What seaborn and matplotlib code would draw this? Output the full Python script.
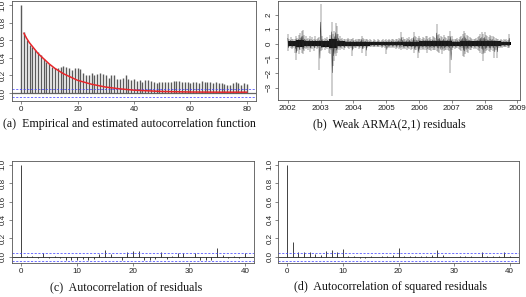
import numpy as np
import pandas as pd
import matplotlib
matplotlib.use("Agg")
import matplotlib.pyplot as plt
import seaborn as sns

# ---- (a) empirical ACF, lags 0..80, and estimated ACF (red curve)
acf_emp = [1.0, 0.69, 0.60, 0.54, 0.52, 0.49, 0.47, 0.43, 0.39, 0.35,
           0.33, 0.30, 0.28, 0.28, 0.30, 0.31, 0.30, 0.28, 0.26, 0.28,
           0.28, 0.27, 0.23, 0.20, 0.20, 0.23, 0.21, 0.22, 0.23, 0.22,
           0.20, 0.17, 0.21, 0.21, 0.16, 0.16, 0.17, 0.20, 0.16, 0.15,
           0.16, 0.14, 0.15, 0.13, 0.15, 0.15, 0.14, 0.13, 0.11, 0.13,
           0.13, 0.13, 0.13, 0.13, 0.14, 0.14, 0.14, 0.13, 0.12, 0.13,
           0.11, 0.12, 0.12, 0.11, 0.14, 0.13, 0.12, 0.12, 0.11, 0.12,
           0.11, 0.11, 0.10, 0.09, 0.09, 0.11, 0.12, 0.11, 0.09, 0.11,
           0.10]
est_lags = [1, 2, 3, 4, 5, 6, 8, 10, 12, 15, 20, 25, 30, 35, 40, 50, 60, 70, 80]
est_acf = [0.68, 0.62, 0.57, 0.53, 0.49, 0.45, 0.39, 0.33, 0.28, 0.22,
           0.145, 0.10, 0.068, 0.048, 0.033, 0.018, 0.012, 0.01, 0.01]
ci_a = 0.048

# ---- (b) weak ARMA(2,1) residuals: half-month high / low envelope, 2002.0 onwards
res_hi = [
    # 2002
    0.7, 0.3, 0.45, 0.3, 0.35, 0.3, 0.55, 0.4, 0.6, 0.75, 0.9, 0.95,
    0.6, 0.5, 0.35, 0.4, 0.55, 0.3, 0.45, 0.35, 0.5, 0.3, 0.4, 0.45,
    # 2003
    2.7, 0.5, 0.35, 0.4, 0.3, 0.45, 0.35, 0.6, 1.5, 0.7, 0.9, 1.4,
    1.2, 0.7, 0.5, 0.35, 0.4, 0.3, 0.35, 0.3, 0.4, 0.3, 0.35, 0.3,
    # 2004
    0.4, 0.25, 0.35, 0.3, 0.3, 0.35, 0.55, 0.4, 0.3, 0.35, 0.3, 0.25,
    0.3, 0.25, 0.2, 0.3, 0.25, 0.2, 0.3, 0.25, 0.2, 0.25, 0.3, 0.25,
    # 2005
    0.3, 0.25, 0.3, 0.25, 0.35, 0.3, 0.25, 0.3, 0.35, 0.4, 0.3, 0.8,
    0.45, 0.35, 0.3, 0.4, 0.35, 0.45, 0.35, 0.4, 0.8, 0.5, 0.45, 0.4,
    # 2006
    0.5, 0.4, 0.35, 0.45, 0.4, 0.5, 0.55, 0.4, 0.45, 0.35, 0.5, 0.45,
    0.4, 1.35, 0.6, 0.7, 0.5, 0.45, 0.6, 0.45, 0.4, 0.5, 0.55, 0.9,
    # 2007
    0.5, 0.35, 0.3, 0.35, 0.4, 0.3, 0.45, 0.55, 0.7, 0.9, 0.75, 0.6,
    0.5, 0.45, 0.4, 0.35, 0.3, 0.35, 0.4, 0.45, 0.55, 0.7, 0.8, 0.7,
    # 2008
    0.8, 0.6, 0.5, 0.45, 0.6, 0.5, 0.55, 0.45, 0.4, 0.35, 0.3, 0.25,
    0.3, 0.25, 0.3, 0.25, 0.3, 0.25, 0.7]
res_lo = [
    # 2002
    -0.5, -0.25, -0.3, -0.35, -0.3, -0.6, -1.1, -0.5, -0.7, -0.4, -0.6, -0.7,
    -0.5, -0.35, -0.3, -0.45, -0.55, -0.3, -0.35, -0.5, -0.3, -0.35, -0.3, -1.8,
    # 2003
    -0.5, -0.4, -0.3, -0.45, -0.3, -0.35, -0.6, -0.7, -3.6, -1.5, -1.2, -0.8,
    -0.6, -0.45, -0.4, -0.3, -0.35, -0.45, -0.3, -0.25, -0.3, -0.35, -0.3, -0.8,
    # 2004
    -0.35, -0.3, -0.3, -0.25, -0.35, -0.3, -0.6, -0.35, -0.3, -0.8, -0.3, -0.25,
    -0.2, -0.25, -0.2, -0.25, -0.2, -0.25, -0.2, -0.2, -0.25, -0.3, -0.25, -0.3,
    # 2005
    -0.7, -0.3, -0.25, -0.3, -0.3, -0.25, -0.3, -0.35, -0.3, -0.35, -0.3, -0.4,
    -0.35, -0.3, -0.35, -0.4, -0.3, -0.35, -0.4, -0.35, -0.6, -0.45, -0.4, -0.95,
    # 2006
    -0.6, -0.45, -0.4, -0.35, -0.45, -0.4, -0.65, -0.45, -0.4, -0.5, -0.4, -0.45,
    -0.4, -0.5, -0.55, -0.6, -0.45, -0.7, -0.5, -0.4, -0.45, -0.4, -0.5, -2.0,
    # 2007
    -0.45, -0.3, -0.35, -0.3, -0.3, -0.35, -0.4, -0.5, -0.8, -0.9, -0.7, -0.55,
    -0.6, -0.4, -0.45, -0.3, -0.35, -0.3, -0.35, -0.4, -0.5, -0.6, -0.7, -1.2,
    # 2008
    -0.6, -0.5, -0.45, -0.5, -0.55, -0.45, -0.5, -1.0, -0.4, -1.0, -0.3, -0.3,
    -0.25, -0.3, -0.25, -0.2, -0.25, -0.3, -0.3]
# dense black core of the series, one half-width per quarter
core_amp = [0.2, 0.25, 0.2, 0.2,
            0.22, 0.3, 0.2, 0.15,
            0.15, 0.15, 0.1, 0.1,
            0.1, 0.12, 0.15, 0.15,
            0.18, 0.2, 0.2, 0.2,
            0.15, 0.2, 0.2, 0.2,
            0.2, 0.2, 0.12, 0.12]
year_ticks = list(range(2002, 2010))

# ---- (c) ACF of residuals, (d) ACF of squared residuals
acf_res = [1.0, 0.005, 0.01, -0.01, 0.04, -0.01, 0.01, -0.01, -0.03, -0.03,
           -0.04, -0.02, -0.03, -0.02, 0.03, 0.07, 0.03, 0.0, -0.04, 0.05,
           0.06, 0.06, -0.03, -0.04, -0.02, 0.05, -0.02, 0.01, 0.04, 0.04,
           -0.005, 0.04, -0.03, -0.04, -0.03, 0.10, 0.02, -0.01, 0.01, -0.01,
           0.04]
acf_sq = [1.0, 0.16, 0.05, 0.05, 0.05, 0.03, 0.02, 0.06, 0.07, 0.05,
          0.08, 0.01, 0.01, -0.01, -0.01, 0.01, 0.0, 0.01, 0.01, 0.02,
          0.09, 0.01, 0.01, 0.01, 0.01, 0.01, 0.02, 0.07, 0.02, 0.0,
          0.0, 0.01, 0.01, 0.01, 0.0, 0.05, 0.01, 0.01, 0.01, 0.05,
          0.01]
ci_cd = 0.045

sns.set_theme(style="white")
plt.rcParams['font.family'] = ['Liberation Sans', 'DejaVu Sans']

W, H = 526, 297
fig = plt.figure(figsize=(W / 100, H / 100), dpi=100)


def px_axes(x0, y0, x1, y1):
    return fig.add_axes([x0 / W, 1 - y1 / H, (x1 - x0) / W, (y1 - y0) / H])


FRAME = '#555555'
CI_COL = '#3f3fff'


def r_style(ax):
    for s in ax.spines.values():
        s.set_color(FRAME)
        s.set_linewidth(0.6)
    ax.tick_params(length=2.5, width=0.5, color=FRAME, labelsize=5.8,
                   pad=1.2, labelcolor='#222222', bottom=True, left=True)
    for lab in ax.get_yticklabels():
        lab.set_rotation(90)
        lab.set_va('center')
    ax.grid(False)


def acf_panel(ax, vals, ci, xlim, xticks, ylim, bar_col, bar_lw, zero_col, zero_lw):
    lags = np.arange(len(vals))
    ax.vlines(lags, 0, vals, color=bar_col, lw=bar_lw)
    ax.axhline(0, color=zero_col, lw=zero_lw, zorder=1)
    for c in (ci, -ci):
        ax.axhline(c, color=CI_COL, lw=0.7, alpha=0.75, ls=(0, (2.2, 1.6)))
    ax.set_xlim(*xlim)
    ax.set_ylim(*ylim)
    ax.set_xticks(xticks)
    ax.set_yticks([0, 0.2, 0.4, 0.6, 0.8, 1.0])
    ax.set_yticklabels(['0.0', '0.2', '0.4', '0.6', '0.8', '1.0'])
    r_style(ax)


# (a)
ax_a = px_axes(12, 1, 256, 101)
acf_panel(ax_a, acf_emp, ci_a, (-3.2, 83.2), [0, 20, 40, 60, 80], (-0.09, 1.045),
          '#5a5a5a', 1.0, '#666666', 0.9)
sns.lineplot(x=est_lags, y=est_acf, ax=ax_a, color='#e8262a', lw=1.1,
             estimator=None, legend=False)
ax_a.set_xlabel('')
ax_a.set_ylabel('')

# (b)
ax_b = px_axes(278, 0.5, 520, 100)
n = len(res_hi)
t0 = 2002.0 + np.arange(n) / 24
ax_b.vlines(t0, res_lo, res_hi, color='#3a3a3a', lw=0.35)
# thin connecting trace through the envelope
t_zig = np.column_stack([t0, t0 + 1 / 48]).ravel()
v_zig = np.column_stack([res_hi, res_lo]).ravel()
sns.lineplot(x=t_zig, y=v_zig * 0.55, ax=ax_b, color='#202020', lw=0.3,
             estimator=None, sort=False, legend=False)
q_edges = 2002.0 + np.arange(len(core_amp) + 1) / 4
q_edges[-1] = t0[-1] + 1 / 24
amp = np.append(core_amp, core_amp[-1])
ax_b.fill_between(q_edges, -amp * 0.85, amp, step='post', color='black', lw=0)
ax_b.set_xlim(2001.7, 2009.08)
ax_b.set_ylim(-3.84, 2.96)
ax_b.set_xticks(year_ticks)
ax_b.set_xticklabels([str(y) for y in year_ticks])
ax_b.set_yticks([-3, -2, -1, 0, 1, 2])
ax_b.set_yticklabels(['\u22123', '\u22122', '\u22121', '0', '1', '2'])
ax_b.set_xlabel('')
ax_b.set_ylabel('')
r_style(ax_b)

# (c)
ax_c = px_axes(12, 161, 254, 263)
acf_panel(ax_c, acf_res, ci_cd, (-1.6, 41.6), [0, 10, 20, 30, 40], (-0.068, 1.04),
          '#222222', 0.6, '#222222', 0.6)

# (d)
ax_d = px_axes(278.4, 161, 518.6, 263)
acf_panel(ax_d, acf_sq, ci_cd, (-1.6, 41.6), [0, 10, 20, 30, 40], (-0.068, 1.04),
          '#222222', 0.6, '#222222', 0.6)

cap = dict(family=['Liberation Serif', 'DejaVu Serif'], fontsize=8.6,
           ha='center', va='center', color='#111111')
fig.text(129 / W, 1 - 124 / H, '(a)  Empirical and estimated autocorrelation function', **cap)
fig.text(389 / W, 1 - 124 / H, '(b)  Weak ARMA(2,1) residuals', **cap)
fig.text(126 / W, 1 - 287 / H, '(c)  Autocorrelation of residuals', **cap)
fig.text(390 / W, 1 - 287 / H, '(d)  Autocorrelation of squared residuals', **cap)

fig.savefig('out.png', dpi=100)
